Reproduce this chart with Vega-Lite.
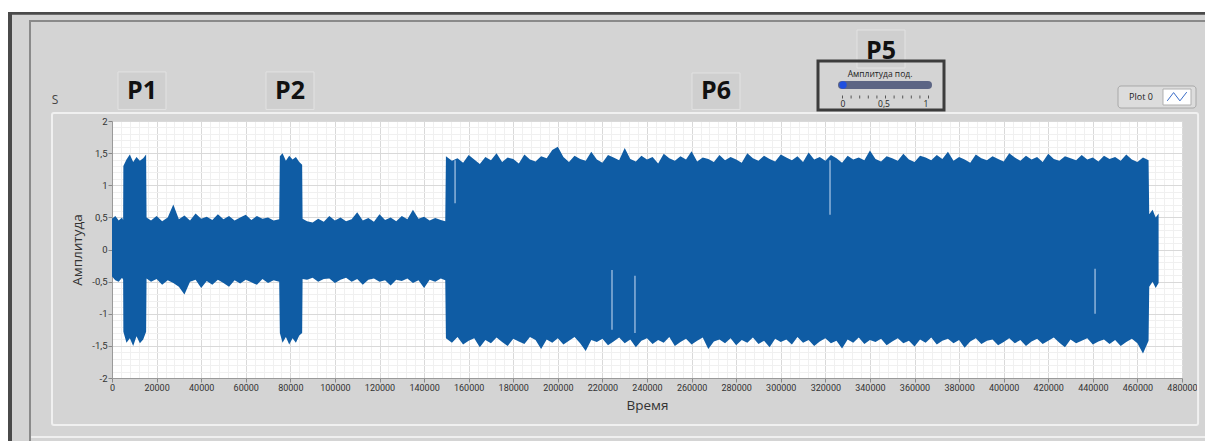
{
  "$schema": "https://vega.github.io/schema/vega-lite/v6.json",
  "width": 1070,
  "height": 257,
  "autosize": {"type": "none"},
  "padding": {"left": 112, "top": 121, "right": 23, "bottom": 63},
  "background": "#d4d4d4",
  "config": {
    "view": {"fill": "white", "stroke": "#d6d6d6"},
    "font": "Open Sans",
    "text": {"font": "Open Sans"}
  },
  "layer": [
    {
      "data": {"values": [
        {"t":0,"hi":0.48,"lo":-0.42},{"t":1500,"hi":0.52,"lo":-0.48},{"t":3000,"hi":0.45,"lo":-0.5},{"t":4500,"hi":0.5,"lo":-0.44},{"t":5000,"hi":0.46,"lo":-0.47},
        {"t":5100,"hi":1.3,"lo":-1.28},{"t":6500,"hi":1.4,"lo":-1.45},{"t":8000,"hi":1.48,"lo":-1.38},{"t":9500,"hi":1.36,"lo":-1.5},{"t":11000,"hi":1.44,"lo":-1.35},{"t":12500,"hi":1.38,"lo":-1.46},{"t":14000,"hi":1.42,"lo":-1.4},{"t":15300,"hi":1.48,"lo":-1.28},
        {"t":15500,"hi":0.5,"lo":-0.45},{"t":17500,"hi":0.45,"lo":-0.5},{"t":20000,"hi":0.52,"lo":-0.46},{"t":22500,"hi":0.44,"lo":-0.55},{"t":25000,"hi":0.5,"lo":-0.48},{"t":27500,"hi":0.7,"lo":-0.52},{"t":30000,"hi":0.47,"lo":-0.58},{"t":32500,"hi":0.53,"lo":-0.7},{"t":35000,"hi":0.45,"lo":-0.5},{"t":37500,"hi":0.56,"lo":-0.47},{"t":40000,"hi":0.48,"lo":-0.6},{"t":42500,"hi":0.51,"lo":-0.49},{"t":45000,"hi":0.46,"lo":-0.55},{"t":47500,"hi":0.55,"lo":-0.47},{"t":50000,"hi":0.47,"lo":-0.52},{"t":52500,"hi":0.52,"lo":-0.58},{"t":55000,"hi":0.45,"lo":-0.48},{"t":57500,"hi":0.5,"lo":-0.53},{"t":60000,"hi":0.54,"lo":-0.47},{"t":62500,"hi":0.46,"lo":-0.51},{"t":65000,"hi":0.52,"lo":-0.55},{"t":67500,"hi":0.48,"lo":-0.46},{"t":70000,"hi":0.5,"lo":-0.52},{"t":72500,"hi":0.45,"lo":-0.48},{"t":75000,"hi":0.47,"lo":-0.5},
        {"t":75300,"hi":1.45,"lo":-1.3},{"t":76500,"hi":1.5,"lo":-1.45},{"t":78000,"hi":1.38,"lo":-1.36},{"t":79500,"hi":1.46,"lo":-1.48},{"t":81000,"hi":1.4,"lo":-1.38},{"t":82500,"hi":1.44,"lo":-1.45},{"t":84000,"hi":1.36,"lo":-1.34},{"t":85300,"hi":1.32,"lo":-1.3},
        {"t":85500,"hi":0.48,"lo":-0.46},{"t":87500,"hi":0.44,"lo":-0.47},{"t":90000,"hi":0.42,"lo":-0.44},{"t":92500,"hi":0.48,"lo":-0.5},{"t":95000,"hi":0.43,"lo":-0.46},{"t":97500,"hi":0.52,"lo":-0.45},{"t":100000,"hi":0.45,"lo":-0.52},{"t":102500,"hi":0.5,"lo":-0.47},{"t":105000,"hi":0.44,"lo":-0.44},{"t":107500,"hi":0.47,"lo":-0.5},{"t":110000,"hi":0.58,"lo":-0.46},{"t":112500,"hi":0.45,"lo":-0.55},{"t":115000,"hi":0.49,"lo":-0.47},{"t":117500,"hi":0.43,"lo":-0.45},{"t":120000,"hi":0.55,"lo":-0.5},{"t":122500,"hi":0.46,"lo":-0.48},{"t":125000,"hi":0.5,"lo":-0.56},{"t":127500,"hi":0.44,"lo":-0.47},{"t":130000,"hi":0.52,"lo":-0.49},{"t":132500,"hi":0.47,"lo":-0.45},{"t":135000,"hi":0.62,"lo":-0.52},{"t":137500,"hi":0.48,"lo":-0.48},{"t":140000,"hi":0.51,"lo":-0.6},{"t":142500,"hi":0.45,"lo":-0.47},{"t":145000,"hi":0.49,"lo":-0.5},{"t":147500,"hi":0.46,"lo":-0.45},{"t":149500,"hi":0.44,"lo":-0.48},
        {"t":149800,"hi":1.45,"lo":-1.38},{"t":152500,"hi":1.38,"lo":-1.45},{"t":155000,"hi":1.42,"lo":-1.36},{"t":157500,"hi":1.35,"lo":-1.48},{"t":160000,"hi":1.47,"lo":-1.42},{"t":162500,"hi":1.4,"lo":-1.38},{"t":165000,"hi":1.33,"lo":-1.52},{"t":167500,"hi":1.44,"lo":-1.41},{"t":170000,"hi":1.39,"lo":-1.46},{"t":172500,"hi":1.5,"lo":-1.37},{"t":175000,"hi":1.36,"lo":-1.44},{"t":177500,"hi":1.43,"lo":-1.5},{"t":180000,"hi":1.41,"lo":-1.39},{"t":182500,"hi":1.34,"lo":-1.43},{"t":185000,"hi":1.48,"lo":-1.47},{"t":187500,"hi":1.4,"lo":-1.36},{"t":190000,"hi":1.37,"lo":-1.41},{"t":192500,"hi":1.45,"lo":-1.55},{"t":195000,"hi":1.42,"lo":-1.4},{"t":197500,"hi":1.55,"lo":-1.45},{"t":200000,"hi":1.6,"lo":-1.38},{"t":202500,"hi":1.44,"lo":-1.48},{"t":205000,"hi":1.36,"lo":-1.42},{"t":207500,"hi":1.46,"lo":-1.36},{"t":210000,"hi":1.41,"lo":-1.46},{"t":212500,"hi":1.38,"lo":-1.58},{"t":215000,"hi":1.52,"lo":-1.41},{"t":217500,"hi":1.4,"lo":-1.44},{"t":220000,"hi":1.35,"lo":-1.39},{"t":222500,"hi":1.47,"lo":-1.49},{"t":225000,"hi":1.43,"lo":-1.43},{"t":227500,"hi":1.39,"lo":-1.37},{"t":230000,"hi":1.58,"lo":-1.46},{"t":232500,"hi":1.41,"lo":-1.4},{"t":235000,"hi":1.37,"lo":-1.52},{"t":237500,"hi":1.46,"lo":-1.42},{"t":240000,"hi":1.4,"lo":-1.38},{"t":242500,"hi":1.44,"lo":-1.47},{"t":245000,"hi":1.34,"lo":-1.41},{"t":247500,"hi":1.49,"lo":-1.45},{"t":250000,"hi":1.42,"lo":-1.36},{"t":252500,"hi":1.38,"lo":-1.5},{"t":255000,"hi":1.45,"lo":-1.44},{"t":257500,"hi":1.4,"lo":-1.39},{"t":260000,"hi":1.53,"lo":-1.48},{"t":262500,"hi":1.37,"lo":-1.42},{"t":265000,"hi":1.43,"lo":-1.37},{"t":267500,"hi":1.41,"lo":-1.55},{"t":270000,"hi":1.36,"lo":-1.43},{"t":272500,"hi":1.47,"lo":-1.4},{"t":275000,"hi":1.39,"lo":-1.46},{"t":277500,"hi":1.44,"lo":-1.38},{"t":280000,"hi":1.4,"lo":-1.49},{"t":282500,"hi":1.35,"lo":-1.41},{"t":285000,"hi":1.5,"lo":-1.45},{"t":287500,"hi":1.42,"lo":-1.37},{"t":290000,"hi":1.38,"lo":-1.47},{"t":292500,"hi":1.46,"lo":-1.42},{"t":295000,"hi":1.41,"lo":-1.52},{"t":297500,"hi":1.37,"lo":-1.39},{"t":300000,"hi":1.48,"lo":-1.44},{"t":302500,"hi":1.43,"lo":-1.4},{"t":305000,"hi":1.39,"lo":-1.48},{"t":307500,"hi":1.45,"lo":-1.36},{"t":310000,"hi":1.36,"lo":-1.45},{"t":312500,"hi":1.51,"lo":-1.41},{"t":315000,"hi":1.4,"lo":-1.5},{"t":317500,"hi":1.44,"lo":-1.43},{"t":320000,"hi":1.38,"lo":-1.38},{"t":322500,"hi":1.47,"lo":-1.46},{"t":325000,"hi":1.42,"lo":-1.42},{"t":327500,"hi":1.35,"lo":-1.54},{"t":330000,"hi":1.46,"lo":-1.4},{"t":332500,"hi":1.4,"lo":-1.45},{"t":335000,"hi":1.43,"lo":-1.37},{"t":337500,"hi":1.39,"lo":-1.47},{"t":340000,"hi":1.54,"lo":-1.41},{"t":342500,"hi":1.41,"lo":-1.44},{"t":345000,"hi":1.37,"lo":-1.39},{"t":347500,"hi":1.45,"lo":-1.49},{"t":350000,"hi":1.42,"lo":-1.43},{"t":352500,"hi":1.38,"lo":-1.38},{"t":355000,"hi":1.49,"lo":-1.46},{"t":357500,"hi":1.4,"lo":-1.42},{"t":360000,"hi":1.36,"lo":-1.51},{"t":362500,"hi":1.46,"lo":-1.4},{"t":365000,"hi":1.43,"lo":-1.45},{"t":367500,"hi":1.39,"lo":-1.37},{"t":370000,"hi":1.47,"lo":-1.48},{"t":372500,"hi":1.41,"lo":-1.42},{"t":375000,"hi":1.52,"lo":-1.39},{"t":377500,"hi":1.38,"lo":-1.46},{"t":380000,"hi":1.44,"lo":-1.41},{"t":382500,"hi":1.4,"lo":-1.53},{"t":385000,"hi":1.35,"lo":-1.43},{"t":387500,"hi":1.48,"lo":-1.38},{"t":390000,"hi":1.42,"lo":-1.47},{"t":392500,"hi":1.39,"lo":-1.42},{"t":395000,"hi":1.45,"lo":-1.4},{"t":397500,"hi":1.41,"lo":-1.49},{"t":400000,"hi":1.37,"lo":-1.44},{"t":402500,"hi":1.5,"lo":-1.38},{"t":405000,"hi":1.43,"lo":-1.46},{"t":407500,"hi":1.38,"lo":-1.41},{"t":410000,"hi":1.46,"lo":-1.5},{"t":412500,"hi":1.4,"lo":-1.43},{"t":415000,"hi":1.44,"lo":-1.39},{"t":417500,"hi":1.36,"lo":-1.47},{"t":420000,"hi":1.49,"lo":-1.42},{"t":422500,"hi":1.41,"lo":-1.37},{"t":425000,"hi":1.38,"lo":-1.45},{"t":427500,"hi":1.45,"lo":-1.52},{"t":430000,"hi":1.42,"lo":-1.4},{"t":432500,"hi":1.39,"lo":-1.46},{"t":435000,"hi":1.47,"lo":-1.42},{"t":437500,"hi":1.4,"lo":-1.38},{"t":440000,"hi":1.43,"lo":-1.48},{"t":442500,"hi":1.37,"lo":-1.43},{"t":445000,"hi":1.46,"lo":-1.4},{"t":447500,"hi":1.41,"lo":-1.47},{"t":450000,"hi":1.44,"lo":-1.41},{"t":452500,"hi":1.38,"lo":-1.5},{"t":455000,"hi":1.48,"lo":-1.44},{"t":457500,"hi":1.4,"lo":-1.39},{"t":460000,"hi":1.36,"lo":-1.46},{"t":462500,"hi":1.43,"lo":-1.62},{"t":465000,"hi":1.39,"lo":-1.42},
        {"t":465300,"hi":0.55,"lo":-0.58},{"t":466800,"hi":0.62,"lo":-0.5},{"t":468200,"hi":0.5,"lo":-0.6},{"t":469500,"hi":0.56,"lo":-0.52}
      ]},
      "mark": {"type": "area", "color": "#0f5ca4", "interpolate": "linear", "opacity": 1},
      "encoding": {
        "x": {
          "field": "t", "type": "quantitative",
          "scale": {"domain": [0, 480000], "nice": false, "zero": false},
          "axis": {
            "title": "Время",
            "titleFontSize": 13.5, "titleFontWeight": "normal", "titleColor": "#333333", "titlePadding": 6,
            "tickCount": 1000,
            "values": [0,4000,8000,12000,16000,20000,24000,28000,32000,36000,40000,44000,48000,52000,56000,60000,64000,68000,72000,76000,80000,84000,88000,92000,96000,100000,104000,108000,112000,116000,120000,124000,128000,132000,136000,140000,144000,148000,152000,156000,160000,164000,168000,172000,176000,180000,184000,188000,192000,196000,200000,204000,208000,212000,216000,220000,224000,228000,232000,236000,240000,244000,248000,252000,256000,260000,264000,268000,272000,276000,280000,284000,288000,292000,296000,300000,304000,308000,312000,316000,320000,324000,328000,332000,336000,340000,344000,348000,352000,356000,360000,364000,368000,372000,376000,380000,384000,388000,392000,396000,400000,404000,408000,412000,416000,420000,424000,428000,432000,436000,440000,444000,448000,452000,456000,460000,464000,468000,472000,476000,480000],
            "format": "d",
            "labelExpr": "datum.value % 20000 === 0 ? datum.label : ''",
            "labelOverlap": false, "labelBound": false, "labelFlush": false,
            "labelFontSize": 9, "labelColor": "#333333", "labelFont": "Roboto", "labelPadding": 1,
            "tickSize": 4, "tickColor": "#888888",
            "tickOpacity": {"condition": {"test": "datum.value % 20000 === 0", "value": 1}, "value": 0},
            "domain": true, "domainColor": "#9a9a9a",
            "grid": true,
            "gridColor": {"condition": {"test": "datum.value % 20000 === 0", "value": "#d9d9d9"}, "value": "#f0f0f0"},
            "gridWidth": 1
          }
        },
        "y": {
          "field": "hi", "type": "quantitative",
          "scale": {"domain": [-2, 2], "nice": false, "zero": false},
          "axis": {
            "title": "Амплитуда",
            "titleFontSize": 13.5, "titleFontWeight": "normal", "titleColor": "#333333", "titlePadding": 7,
            "tickCount": 1000,
            "values": [-2,-1.9,-1.8,-1.7,-1.6,-1.5,-1.4,-1.3,-1.2,-1.1,-1,-0.9,-0.8,-0.7,-0.6,-0.5,-0.4,-0.3,-0.2,-0.1,0,0.1,0.2,0.3,0.4,0.5,0.6,0.7,0.8,0.9,1,1.1,1.2,1.3,1.4,1.5,1.6,1.7,1.8,1.9,2],
            "labelExpr": "abs(datum.value*2 - round(datum.value*2)) < 0.000001 ? replace(toString(datum.value), '.', ',') : ''",
            "labelOverlap": false, "labelBound": false, "labelFlush": false,
            "labelFontSize": 9.5, "labelColor": "#333333", "labelFont": "Roboto", "labelPadding": 1,
            "tickSize": 4, "tickColor": "#888888",
            "tickOpacity": {"condition": {"test": "abs(datum.value*2 - round(datum.value*2)) < 0.000001", "value": 1}, "value": 0},
            "domain": true, "domainColor": "#9a9a9a",
            "grid": true,
            "gridColor": {"condition": {"test": "abs(datum.value*2 - round(datum.value*2)) < 0.000001", "value": "#d9d9d9"}, "value": "#f0f0f0"},
            "gridWidth": 1
          }
        },
        "y2": {"field": "lo"}
      }
    },
    {
      "data": {"values": [
        {"t":153900,"a":1.39,"b":0.72},
        {"t":224300,"a":-0.32,"b":-1.25},
        {"t":234600,"a":-0.41,"b":-1.3},
        {"t":322100,"a":1.39,"b":0.54},
        {"t":441000,"a":-0.3,"b":-1.0}
      ]},
      "mark": {"type": "rule", "stroke": "#8fb3da", "strokeWidth": 1.5},
      "encoding": {
        "x": {"field": "t", "type": "quantitative"},
        "y": {"field": "a", "type": "quantitative"},
        "y2": {"field": "b"}
      }
    },
    {
      "data": {"values": [{}]},
      "mark": {"type": "rect", "fill": "white"},
      "encoding": {
        "x": {"datum": -51000, "type": "quantitative"},
        "x2": {"datum": 492000},
        "y": {"datum": 3.95, "type": "quantitative"},
        "y2": {"datum": 3.697}
      }
    },
    {
      "data": {"values": [{}]},
      "mark": {"type": "rect", "fill": "white"},
      "encoding": {
        "x": {"datum": -51000, "type": "quantitative"},
        "x2": {"datum": -46654},
        "y": {"datum": 3.95, "type": "quantitative"},
        "y2": {"datum": -3.05}
      }
    },
    {
      "data": {"values": [{}]},
      "mark": {"type": "rect", "fill": "#4a4a4a"},
      "encoding": {
        "x": {"datum": -46654, "type": "quantitative"},
        "x2": {"datum": 492000},
        "y": {"datum": 3.697, "type": "quantitative"},
        "y2": {"datum": 3.655}
      }
    },
    {
      "data": {"values": [{}]},
      "mark": {"type": "rect", "fill": "#4a4a4a"},
      "encoding": {
        "x": {"datum": -46654, "type": "quantitative"},
        "x2": {"datum": -44860},
        "y": {"datum": 3.697, "type": "quantitative"},
        "y2": {"datum": -3.05}
      }
    },
    {
      "data": {"values": [{}]},
      "mark": {"type": "rect", "filled": false, "stroke": "#8a8a8a", "strokeWidth": 2},
      "encoding": {
        "x": {"datum": -36785, "type": "quantitative"},
        "x2": {"datum": 495000},
        "y": {"datum": 3.556, "type": "quantitative"},
        "y2": {"datum": -3.2}
      }
    },
    {
      "data": {"values": [{}]},
      "mark": {"type": "rule", "stroke": "#efefef", "strokeWidth": 2},
      "encoding": {
        "x": {"datum": -36300, "type": "quantitative"},
        "x2": {"datum": 492000},
        "y": {"datum": -2.918, "type": "quantitative"}
      }
    },
    {
      "data": {"values": [{}]},
      "mark": {"type": "rect", "filled": false, "stroke": "#f0f0f0", "strokeWidth": 2, "cornerRadius": 2},
      "encoding": {
        "x": {"datum": -26916, "type": "quantitative"},
        "x2": {"datum": 487200},
        "y": {"datum": 2.1245, "type": "quantitative"},
        "y2": {"datum": -2.7315}
      }
    },
    {
      "data": {"values": [{}]},
      "mark": {"type": "text", "text": "S", "fontSize": 12, "color": "#444444", "align": "center", "baseline": "middle"},
      "encoding": {
        "x": {"datum": -25570, "type": "quantitative"},
        "y": {"datum": 2.327, "type": "quantitative"}
      }
    },
    {
      "data": {"values": [{}]},
      "mark": {"type": "rect", "fill": "#cfcfcf", "stroke": "#e2e2e2", "strokeWidth": 1},
      "encoding": {
        "x": {"datum": 2692, "type": "quantitative"},
        "x2": {"datum": 24224},
        "y": {"datum": 2.763, "type": "quantitative"},
        "y2": {"datum": 2.18}
      }
    },
    {
      "data": {"values": [{}]},
      "mark": {"type": "text", "text": "P1", "fontSize": 25, "fontWeight": "bold", "color": "#111111", "align": "center", "baseline": "middle"},
      "encoding": {
        "x": {"datum": 13458, "type": "quantitative"},
        "y": {"datum": 2.47, "type": "quantitative"}
      }
    },
    {
      "data": {"values": [{}]},
      "mark": {"type": "rect", "fill": "#cfcfcf", "stroke": "#e2e2e2", "strokeWidth": 1},
      "encoding": {
        "x": {"datum": 69084, "type": "quantitative"},
        "x2": {"datum": 90617},
        "y": {"datum": 2.763, "type": "quantitative"},
        "y2": {"datum": 2.18}
      }
    },
    {
      "data": {"values": [{}]},
      "mark": {"type": "text", "text": "P2", "fontSize": 25, "fontWeight": "bold", "color": "#111111", "align": "center", "baseline": "middle"},
      "encoding": {
        "x": {"datum": 79850, "type": "quantitative"},
        "y": {"datum": 2.47, "type": "quantitative"}
      }
    },
    {
      "data": {"values": [{}]},
      "mark": {"type": "rect", "fill": "#cfcfcf", "stroke": "#e2e2e2", "strokeWidth": 1},
      "encoding": {
        "x": {"datum": 260188, "type": "quantitative"},
        "x2": {"datum": 281721},
        "y": {"datum": 2.747, "type": "quantitative"},
        "y2": {"datum": 2.18}
      }
    },
    {
      "data": {"values": [{}]},
      "mark": {"type": "text", "text": "P6", "fontSize": 25, "fontWeight": "bold", "color": "#111111", "align": "center", "baseline": "middle"},
      "encoding": {
        "x": {"datum": 270955, "type": "quantitative"},
        "y": {"datum": 2.46, "type": "quantitative"}
      }
    },
    {
      "data": {"values": [{}]},
      "mark": {"type": "rect", "fill": "#cfcfcf", "stroke": "#e2e2e2", "strokeWidth": 1},
      "encoding": {
        "x": {"datum": 334207, "type": "quantitative"},
        "x2": {"datum": 355740},
        "y": {"datum": 3.416, "type": "quantitative"},
        "y2": {"datum": 2.825}
      }
    },
    {
      "data": {"values": [{}]},
      "mark": {"type": "text", "text": "P5", "fontSize": 25, "fontWeight": "bold", "color": "#111111", "align": "center", "baseline": "middle"},
      "encoding": {
        "x": {"datum": 344973, "type": "quantitative"},
        "y": {"datum": 3.09, "type": "quantitative"}
      }
    },
    {
      "data": {"values": [{}]},
      "mark": {"type": "rect", "filled": false, "stroke": "#3c3c3c", "strokeWidth": 3},
      "encoding": {
        "x": {"datum": 316712, "type": "quantitative"},
        "x2": {"datum": 373235},
        "y": {"datum": 2.934, "type": "quantitative"},
        "y2": {"datum": 2.171}
      }
    },
    {
      "data": {"values": [{}]},
      "mark": {"type": "text", "text": "Амплитуда под.", "fontSize": 8.5, "color": "#222222", "align": "center", "baseline": "middle"},
      "encoding": {
        "x": {"datum": 344525, "type": "quantitative"},
        "y": {"datum": 2.73, "type": "quantitative"}
      }
    },
    {
      "data": {"values": [{}]},
      "mark": {"type": "rule", "stroke": "#5c6584", "strokeWidth": 8, "strokeCap": "round"},
      "encoding": {
        "x": {"datum": 327478, "type": "quantitative"},
        "x2": {"datum": 366058},
        "y": {"datum": 2.56, "type": "quantitative"}
      }
    },
    {
      "data": {"values": [{}]},
      "mark": {"type": "point", "filled": true, "fill": "#1f4fe0", "size": 55, "opacity": 1},
      "encoding": {
        "x": {"datum": 327930, "type": "quantitative"},
        "y": {"datum": 2.56, "type": "quantitative"}
      }
    },
    {
      "data": {"values": [{}]},
      "mark": {"type": "rule", "stroke": "#555555", "strokeWidth": 3, "strokeDash": [1, 7.6]},
      "encoding": {
        "x": {"datum": 327478, "type": "quantitative"},
        "x2": {"datum": 366700},
        "y": {"datum": 2.374, "type": "quantitative"}
      }
    },
    {
      "data": {"values": [{}]},
      "mark": {"type": "text", "text": "0", "fontSize": 8.5, "color": "#222222", "align": "center", "baseline": "middle"},
      "encoding": {
        "x": {"datum": 327930, "type": "quantitative"},
        "y": {"datum": 2.26, "type": "quantitative"}
      }
    },
    {
      "data": {"values": [{}]},
      "mark": {"type": "text", "text": "0,5", "fontSize": 8.5, "color": "#222222", "align": "center", "baseline": "middle"},
      "encoding": {
        "x": {"datum": 346319, "type": "quantitative"},
        "y": {"datum": 2.26, "type": "quantitative"}
      }
    },
    {
      "data": {"values": [{}]},
      "mark": {"type": "text", "text": "1", "fontSize": 8.5, "color": "#222222", "align": "center", "baseline": "middle"},
      "encoding": {
        "x": {"datum": 365160, "type": "quantitative"},
        "y": {"datum": 2.26, "type": "quantitative"}
      }
    },
    {
      "data": {"values": [{}]},
      "mark": {"type": "rect", "fill": "#dcdcdc", "stroke": "#a8a8a8", "strokeWidth": 1, "cornerRadius": 3},
      "encoding": {
        "x": {"datum": 451294, "type": "quantitative"},
        "x2": {"datum": 486282},
        "y": {"datum": 2.545, "type": "quantitative"},
        "y2": {"datum": 2.202}
      }
    },
    {
      "data": {"values": [{}]},
      "mark": {"type": "text", "text": "Plot 0", "fontSize": 9, "color": "#222222", "align": "center", "baseline": "middle"},
      "encoding": {
        "x": {"datum": 461613, "type": "quantitative"},
        "y": {"datum": 2.374, "type": "quantitative"}
      }
    },
    {
      "data": {"values": [{}]},
      "mark": {"type": "rect", "fill": "white", "stroke": "#b0b0b0", "strokeWidth": 1},
      "encoding": {
        "x": {"datum": 471475, "type": "quantitative"},
        "x2": {"datum": 484035},
        "y": {"datum": 2.498, "type": "quantitative"},
        "y2": {"datum": 2.249}
      }
    },
    {
      "data": {"values": [{}]},
      "mark": {"type": "point", "filled": false, "shape": "M -1 0.4 L -0.35 -0.45 L 0.3 0.4 L 1 -0.5", "size": 380, "stroke": "#3a6cc8", "strokeWidth": 1, "opacity": 1},
      "encoding": {
        "x": {"datum": 477759, "type": "quantitative"},
        "y": {"datum": 2.374, "type": "quantitative"}
      }
    }
  ]
}
